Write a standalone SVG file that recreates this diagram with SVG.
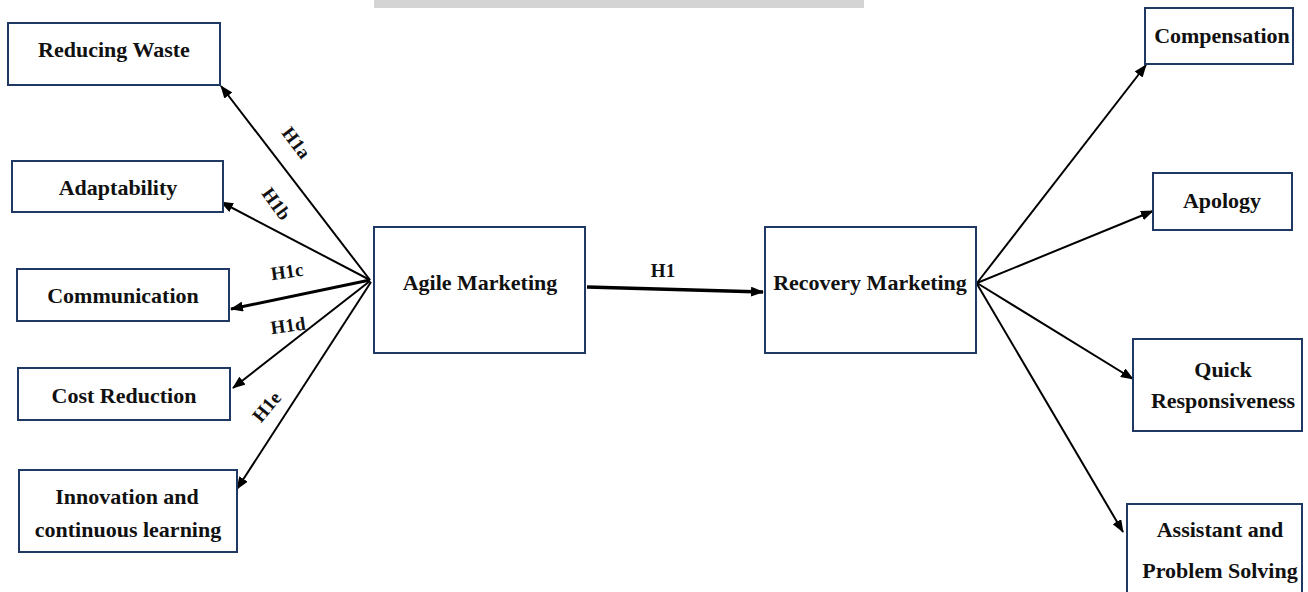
<svg xmlns="http://www.w3.org/2000/svg" width="1308" height="592" viewBox="0 0 1308 592">
<style>
.box{fill:#ffffff;stroke:#1f3864;stroke-width:2}
.t{font-family:"Liberation Serif","Times New Roman",serif;font-weight:bold;font-size:22px;fill:#111;text-anchor:middle}
.lbl{font-family:"Liberation Serif","Times New Roman",serif;font-weight:bold;font-size:19px;fill:#111;text-anchor:middle}
.ln{stroke:#000;stroke-width:2;fill:none;marker-end:url(#ah)}
</style>
<defs>
<marker id="ah" viewBox="0 0 13 10" refX="12" refY="5" markerWidth="13" markerHeight="10" markerUnits="userSpaceOnUse" orient="auto">
<path d="M0,0 L13,5 L0,10 Z" fill="#000"/>
</marker>
</defs>
<rect x="0" y="0" width="1308" height="592" fill="#ffffff"/>
<rect x="374" y="0" width="490" height="8" fill="#d4d4d4"/>
<g id="connectors">
<line class="ln" x1="370" y1="280" x2="221" y2="86"/>
<line class="ln" x1="370" y1="280" x2="221" y2="202"/>
<line class="ln" x1="370" y1="280" x2="231" y2="309" style="stroke-width:3"/>
<line class="ln" x1="370" y1="281" x2="233" y2="388"/>
<line class="ln" x1="371" y1="282" x2="237" y2="489"/>
<line class="ln" x1="587" y1="287" x2="763" y2="292" style="stroke-width:3.5"/>
<line class="ln" x1="977" y1="283" x2="1146" y2="65"/>
<line class="ln" x1="977" y1="283" x2="1153" y2="211"/>
<line class="ln" x1="977" y1="283" x2="1133" y2="379"/>
<line class="ln" x1="977" y1="284" x2="1123" y2="532"/>
<text class="lbl" transform="translate(296,143) rotate(53)" y="6">H1a</text>
<text class="lbl" transform="translate(276,204) rotate(54)" y="6">H1b</text>
<text class="lbl" transform="translate(287,272) rotate(-8)" y="6">H1c</text>
<text class="lbl" transform="translate(288,326) rotate(-8)" y="6">H1d</text>
<text class="lbl" transform="translate(267,407) rotate(-50)" y="6">H1e</text>
<text class="lbl" x="663" y="277">H1</text>
</g>
<g id="reducing-waste"><rect class="box" x="8" y="23" width="212" height="62"/><text class="t" x="114" y="57">Reducing Waste</text></g>
<g id="adaptability"><rect class="box" x="12" y="161" width="211" height="51"/><text class="t" x="118" y="195">Adaptability</text></g>
<g id="communication"><rect class="box" x="17" y="269" width="212" height="52"/><text class="t" x="123" y="303">Communication</text></g>
<g id="cost-reduction"><rect class="box" x="18" y="368" width="212" height="52"/><text class="t" x="124" y="403">Cost Reduction</text></g>
<g id="innovation"><rect class="box" x="19" y="470" width="218" height="82"/><text class="t" x="127" y="504">Innovation and</text><text class="t" x="128" y="537">continuous learning</text></g>
<g id="agile-marketing"><rect class="box" x="374" y="227" width="211" height="126"/><text class="t" x="480" y="290">Agile Marketing</text></g>
<g id="recovery-marketing"><rect class="box" x="765" y="227" width="211" height="126"/><text class="t" x="870" y="290">Recovery Marketing</text></g>
<g id="compensation"><rect class="box" x="1145" y="8" width="148" height="56"/><text class="t" x="1222" y="43">Compensation</text></g>
<g id="apology"><rect class="box" x="1153" y="173" width="139" height="57"/><text class="t" x="1222" y="208">Apology</text></g>
<g id="quick-responsiveness"><rect class="box" x="1133" y="339" width="169" height="92"/><text class="t" x="1223" y="377">Quick</text><text class="t" x="1223" y="408">Responsiveness</text></g>
<g id="assistant"><rect class="box" x="1127" y="504" width="175" height="100"/><text class="t" x="1220" y="537">Assistant and</text><text class="t" x="1220" y="578">Problem Solving</text></g>
</svg>
